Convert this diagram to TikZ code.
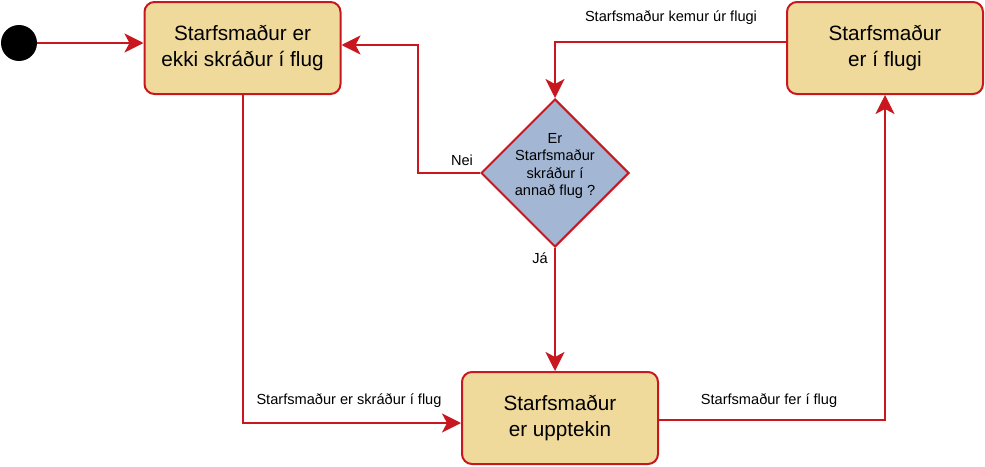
\documentclass[tikz,border=0pt]{standalone}
\usepackage{fontspec}
\setmainfont{Liberation Sans}
\usetikzlibrary{arrows.meta, shapes.geometric}
\definecolor{stateFill}{HTML}{EFD99B}
\definecolor{askFill}{HTML}{A3B7D4}
\definecolor{lineRed}{HTML}{C8171E}

\begin{document}
\begin{tikzpicture}[x=1pt, y=-1pt,
    state/.style={draw=lineRed, line width=2pt, fill=stateFill, rounded corners=10pt,
      minimum width=196pt, minimum height=92pt, inner sep=0pt, align=center,
      font=\fontsize{20.7}{25.5}\selectfont},
    decision/.style={draw=lineRed, line width=2pt, fill=askFill, diamond, aspect=1,
      minimum width=148pt, minimum height=148pt, inner sep=0pt},
    lbl/.style={inner sep=0pt, align=center, font=\fontsize{14.6}{17.5}\selectfont},
    flow/.style={draw=lineRed, line width=2pt,
      -{Stealth[length=19pt, width=19pt, inset=5pt]}}]
    \useasboundingbox (0,0) rectangle (985,466);
    \node[circle, fill=black, minimum size=36pt, inner sep=0pt] (start) at (19,43) {};
    \node[state] (ekki) at (242.5,48) {Starfsmaður er\\ekki skráður í flug};
    \node[state] (flugi) at (885,48) {Starfsmaður\\er í flugi};
    \node[state] (upptekin) at (560,418) {Starfsmaður\\er upptekin};
    \node[decision] (spurn) at (555,173) {};
    \node[lbl] (spurntxt) at (555,166) {Er\\Starfsmaður\\skráður í\\annað flug ?};
    \coordinate (neihorn) at (418,173);
    % edge labels
    \node[lbl] (lkemur) at (671,18) {Starfsmaður kemur úr flugi};
    \node[lbl] (lnei) at (462,160) {Nei};
    \node[lbl] (lja) at (540,258) {Já};
    \node[lbl] (lskrad) at (349,401) {Starfsmaður er skráður í flug};
    \node[lbl] (lfer) at (769,401) {Starfsmaður fer í flug};
    % connectors
    \draw[flow] (start.east) -- (start.east -| ekki.west);
    \draw[flow] ([yshift=6pt]flugi.west) -| (spurn.north);
    \draw[flow] (spurn.west) -- (neihorn) |- ([yshift=3pt]ekki.east);
    \draw[flow] (spurn.south) -- (spurn.south |- upptekin.north);
    \draw[flow] (ekki.south) |- ([yshift=-5pt]upptekin.west);
    \draw[flow] ([yshift=-2pt]upptekin.east) -| (flugi.south);
\end{tikzpicture}
\end{document}
